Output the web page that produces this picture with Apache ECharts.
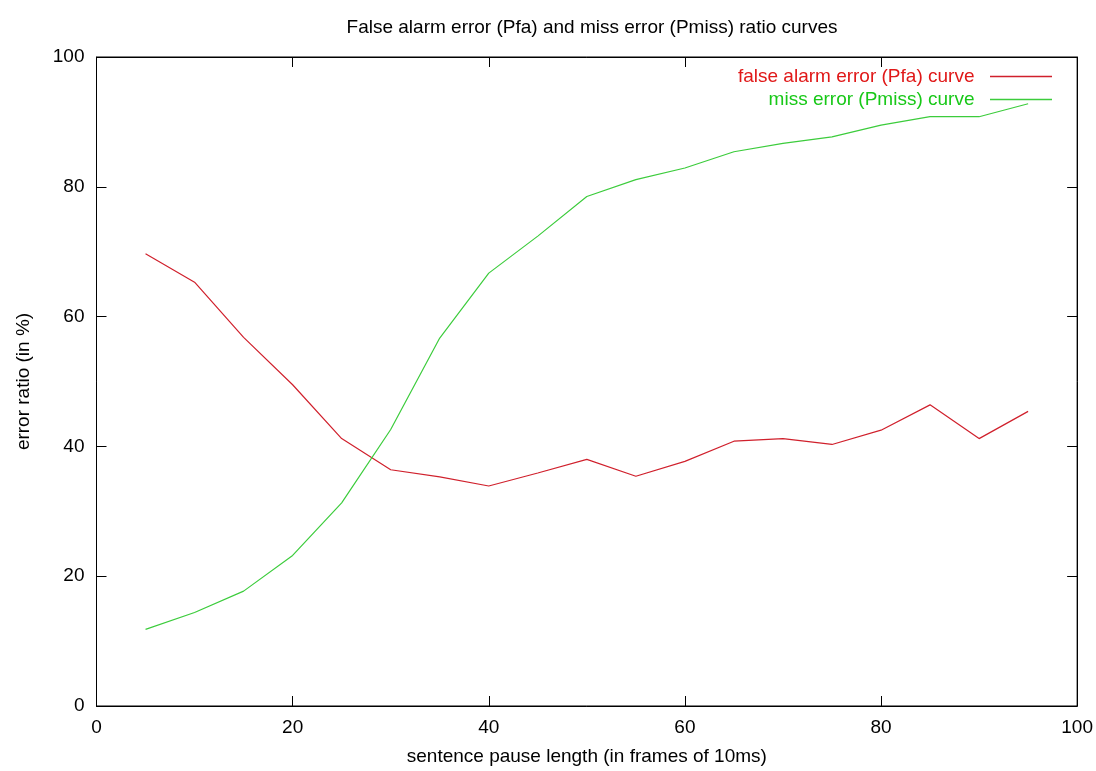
<!DOCTYPE html>
<html>
<head>
<meta charset="utf-8">
<script src="https://cdn.jsdelivr.net/npm/echarts@6/dist/echarts.min.js"></script>
<style>
  html, body { margin: 0; padding: 0; background: #fff; }
  #chart { width: 1096px; height: 771px; }
</style>
</head>
<body>
<div id="chart"></div>
<script>
  // sentence pause length (frames of 10ms)
  const pauseLen = [5, 10, 15, 20, 25, 30, 35, 40, 45, 50, 55, 60, 65, 70, 75, 80, 85, 90, 95]
  // false alarm error ratio (%)
  const pfa = [69.7, 65.3, 56.8, 49.5, 41.2, 36.4, 35.3, 33.9, 35.9, 38.0, 35.4, 37.7, 40.8, 41.2, 40.3, 42.5, 46.4, 41.2, 45.4]
  // miss error ratio (%)
  const pmiss = [11.8, 14.4, 17.7, 23.2, 31.3, 42.6, 56.7, 66.7, 72.4, 78.5, 81.1, 82.9, 85.4, 86.7, 87.7, 89.5, 90.8, 90.8, 92.8]

  const FONT = 'Liberation Sans, Arial, sans-serif'
  const FS = 19
  const RED = '#d0202c'
  const GREEN = '#3ccc3c'

  function pairs(xs, ys) {
    return xs.map((x, i) => [x, ys[i]])
  }

  // gnuplot-like mirrored axes: ticks inside on all four sides
  function axis(pos, showLabel, extra) {
    return Object.assign({
      type: 'value',
      position: pos,
      min: 0,
      max: 100,
      interval: 20,
      axisLine: { show: true, onZero: false, lineStyle: { color: '#000', width: 1 } },
      axisTick: { show: true, inside: true, length: 10, lineStyle: { color: '#000', width: 1 } },
      splitLine: { show: false },
      axisLabel: { show: showLabel, color: '#000', fontSize: FS, fontFamily: FONT, margin: 12 }
    }, extra || {})
  }

  const chart = echarts.init(document.getElementById('chart'))
  chart.setOption({
    backgroundColor: '#fff',
    animation: false,
    title: {
      text: 'False alarm error (Pfa) and miss error (Pmiss) ratio curves',
      left: 587,
      top: 13,
      textAlign: 'center',
      textStyle: { fontSize: FS, fontWeight: 'normal', color: '#000', fontFamily: FONT }
    },
    legend: {
      orient: 'vertical',
      right: 44,
      top: 67,
      padding: 0,
      align: 'right',
      icon: 'rect',
      itemWidth: 62,
      itemHeight: 1.5,
      itemGap: 4,
      formatter: name => name + '  ',
      textStyle: { fontSize: FS, fontFamily: FONT },
      data: [
        { name: 'false alarm error (Pfa) curve', textStyle: { color: '#e01818' } },
        { name: 'miss error (Pmiss) curve', textStyle: { color: '#18c818' } }
      ]
    },
    grid: {
      left: 96.5,
      right: 18,
      top: 57,
      bottom: 64,
      show: true,
      borderColor: '#000',
      borderWidth: 1
    },
    xAxis: [
      axis('bottom', true, {
        name: 'sentence pause length (in frames of 10ms)',
        nameLocation: 'middle',
        nameGap: 41,
        nameTextStyle: { fontSize: FS, color: '#000', fontFamily: FONT }
      }),
      axis('top', false)
    ],
    yAxis: [
      axis('left', true, {
        name: 'error ratio (in %)',
        nameLocation: 'middle',
        nameGap: 63,
        nameTextStyle: { fontSize: FS, color: '#000', fontFamily: FONT }
      }),
      axis('right', false)
    ],
    series: [
      {
        name: 'false alarm error (Pfa) curve',
        type: 'line',
        data: pairs(pauseLen, pfa),
        symbol: 'none',
        lineStyle: { color: RED, width: 1.2 },
        itemStyle: { color: RED }
      },
      {
        name: 'miss error (Pmiss) curve',
        type: 'line',
        data: pairs(pauseLen, pmiss),
        symbol: 'none',
        lineStyle: { color: GREEN, width: 1.2 },
        itemStyle: { color: GREEN }
      }
    ]
  })
</script>
</body>
</html>
